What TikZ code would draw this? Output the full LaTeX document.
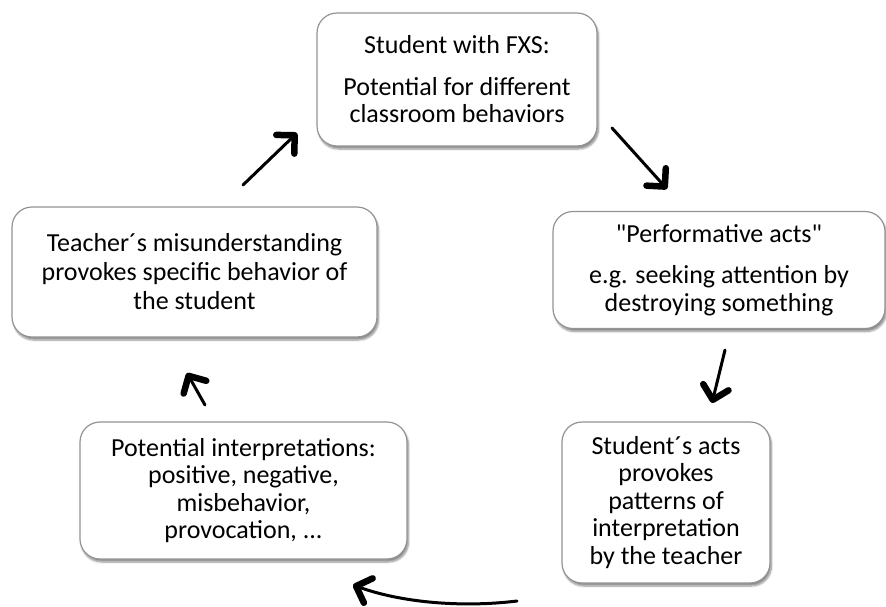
\documentclass[tikz,border=0pt]{standalone}
\usepackage{fontspec}
\setmainfont{Carlito}[Ligatures=TeXOff]
\usetikzlibrary{arrows.meta,shadows.blur}
\begin{document}
\begin{tikzpicture}[x=1pt,y=-1pt,
  box/.style={draw=gray!85, line width=1.2pt, rounded corners=20pt, fill=white,
    align=center, inner sep=0pt, font=\fontsize{26}{27.5}\selectfont,
    blur shadow={shadow xshift=1.5pt, shadow yshift=-3pt, shadow opacity=45, shadow blur steps=6}},
  flow/.style={line width=3pt, line cap=round,
    -{Straight Barb[length=13pt,width=26pt,line width=6.5pt,round]}}]
\useasboundingbox (0,0) rectangle (886,606);
% the five boxes of the cycle
\node[box, minimum width=280pt, minimum height=133pt] (fxs) at (457,79.5) {Student with FXS:\\[14pt]Potential for different\\classroom behaviors};
\node[box, minimum width=332pt, minimum height=117pt] (perf) at (719,270) {"Performative acts"\\[14pt]e.g. seeking attention by\\destroying something};
\node[box, minimum width=208pt, minimum height=161pt] (acts) at (666,502.5) {Student´s acts\\provokes\\patterns of\\interpretation\\by the teacher};
\node[box, minimum width=327pt, minimum height=137pt] (interp) at (243.5,490.5) {Potential interpretations:\\positive, negative,\\misbehavior,\\provocation, ...};
\node[box, minimum width=365pt, minimum height=130pt, font=\fontsize{26}{29}\selectfont] (teacher) at (194.5,272) {Teacher´s misunderstanding\\provokes specific behavior of\\the student};
% arrow ends
\coordinate (t1) at (243,185); \coordinate (h1) at (297,133);
\coordinate (t2) at (612,128); \coordinate (h2) at (667,189);
\coordinate (t3) at (725,350); \coordinate (h3) at (712,403);
\coordinate (t4) at (517,601); \coordinate (h4) at (353,585);
\coordinate (t5) at (205,405); \coordinate (h5) at (187,373);
\draw[flow] (t1) -- (h1);
\draw[flow] (t2) -- (h2);
\draw[flow] (t3) -- (h3);
\draw[flow] (t4) .. controls (460,608) and (400,602) .. (h4);
\draw[flow] (t5) -- (h5);
\end{tikzpicture}
\end{document}
